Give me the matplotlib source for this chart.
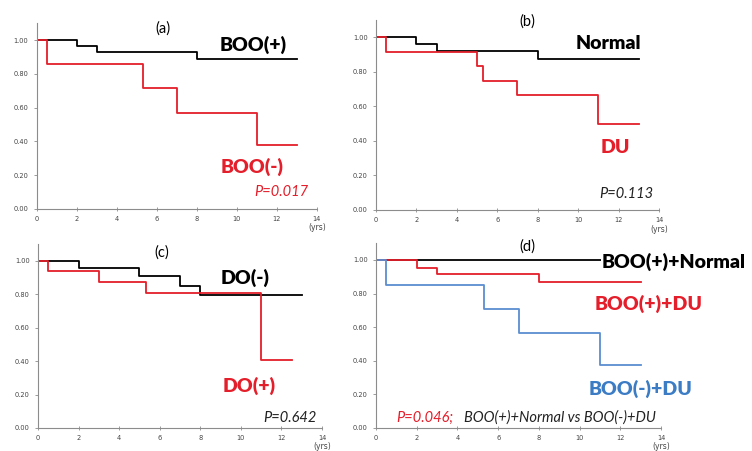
import numpy as np
import matplotlib
matplotlib.use('Agg')
import matplotlib.pyplot as plt

plt.rcParams['font.family'] = ['Lato', 'DejaVu Sans']

RED = '#e41f2b'
BLUE = '#5b8ed0'
BLUE_TXT = '#3b7cc4'
GRAY = '#8c8c8c'

# (a) BOO(+) vs BOO(-)
a_boo_pos_t = [0, 2, 3, 8, 13]
a_boo_pos_s = [1.0, 0.964, 0.929, 0.89, 0.89]
a_boo_neg_t = [0, 0.5, 5.3, 7, 11, 13]
a_boo_neg_s = [1.0, 0.857, 0.714, 0.571, 0.381, 0.381]

# (b) Normal vs DU
b_norm_t = [0, 2, 3, 8, 13]
b_norm_s = [1.0, 0.96, 0.923, 0.872, 0.872]
b_du_t = [0, 0.5, 5.0, 5.3, 7, 11, 13]
b_du_s = [1.0, 0.917, 0.833, 0.75, 0.665, 0.5, 0.5]

# (c) DO(-) vs DO(+)
c_dono_t = [0, 2, 5, 7, 8, 13]
c_dono_s = [1.0, 0.956, 0.906, 0.85, 0.796, 0.796]
c_do_t = [0, 0.5, 3, 5.3, 11, 12.5]
c_do_s = [1.0, 0.936, 0.872, 0.81, 0.404, 0.404]

# (d) combined groups
d_norm_t = [0, 13]
d_norm_s = [1.0, 1.0]
d_du_t = [0, 2, 3, 8, 13]
d_du_s = [1.0, 0.954, 0.915, 0.866, 0.866]
d_neg_t = [0, 0.5, 5.3, 7, 11, 13]
d_neg_s = [1.0, 0.85, 0.705, 0.564, 0.372, 0.372]

yticks = [0.0, 0.2, 0.4, 0.6, 0.8, 1.0]
xticks = [0, 2, 4, 6, 8, 10, 12, 14]

fig = plt.figure(figsize=(7.52, 4.51), dpi=100)


def setup(rect):
    ax = fig.add_axes(rect)
    ax.set_xlim(0, 14)
    ax.set_ylim(0, 1.1)
    for s in ['top', 'right']:
        ax.spines[s].set_visible(False)
    for s in ['left', 'bottom']:
        ax.spines[s].set_color(GRAY)
        ax.spines[s].set_linewidth(0.8)
    ax.set_xticks(xticks)
    ax.set_yticks(yticks)
    ax.set_xticklabels([str(v) for v in xticks], family='DejaVu Sans')
    ax.set_yticklabels(['%.2f' % v for v in yticks], family='DejaVu Sans')
    ax.tick_params(colors=GRAY, labelcolor='#444444', labelsize=4.8, length=2.5, width=0.6)
    ax.tick_params(axis='x', direction='inout', length=3)
    ax.text(14, -0.085, '(yrs)', fontsize=5.5, color='#444444', ha='center', va='top',
            family='DejaVu Sans')
    return ax


ax_a = setup([0.049, 0.5366, 0.3724, 0.412])
ax_b = setup([0.5, 0.5344, 0.3763, 0.421])
ax_c = setup([0.0505, 0.051, 0.3777, 0.408])
ax_d = setup([0.5, 0.051, 0.379, 0.41])

lw = 1.3
big = 14
ptxt = 10.5
ttl = 10.5

# (a)
ax_a.step(a_boo_pos_t, a_boo_pos_s, where='post', color='black', lw=lw)
ax_a.step(a_boo_neg_t, a_boo_neg_s, where='post', color=RED, lw=lw)
ax_a.text(6.3, 1.07, '(a)', fontsize=ttl, ha='center', va='center')
ax_a.text(10.8, 0.97, 'BOO(+)', fontsize=big, fontweight='heavy', ha='center', va='center')
ax_a.text(10.75, 0.25, 'BOO(-)', fontsize=big, fontweight='heavy', color=RED, ha='center', va='center')
ax_a.text(12.2, 0.10, 'P=0.017', fontsize=ptxt, style='italic', color=RED, ha='center', va='center')

# (b)
ax_b.step(b_norm_t, b_norm_s, where='post', color='black', lw=lw)
ax_b.step(b_du_t, b_du_s, where='post', color=RED, lw=lw)
ax_b.text(7.5, 1.09, '(b)', fontsize=ttl, ha='center', va='center')
ax_b.text(11.5, 0.965, 'Normal', fontsize=big, fontweight='heavy', ha='center', va='center')
ax_b.text(11.85, 0.36, 'DU', fontsize=big, fontweight='heavy', color=RED, ha='center', va='center')
ax_b.text(12.4, 0.09, 'P=0.113', fontsize=ptxt, style='italic', color='#222222', ha='center', va='center')

# (c)
ax_c.step(c_dono_t, c_dono_s, where='post', color='black', lw=lw)
ax_c.step(c_do_t, c_do_s, where='post', color=RED, lw=lw)
ax_c.text(6.1, 1.05, '(c)', fontsize=ttl, ha='center', va='center')
ax_c.text(10.2, 0.90, 'DO(-)', fontsize=big, fontweight='heavy', ha='center', va='center')
ax_c.text(10.4, 0.25, 'DO(+)', fontsize=big, fontweight='heavy', color=RED, ha='center', va='center')
ax_c.text(12.4, 0.06, 'P=0.642', fontsize=ptxt, style='italic', color='#222222', ha='center', va='center')

# (d)
ax_d.step(d_norm_t, d_norm_s, where='post', color='black', lw=lw)
ax_d.step(d_du_t, d_du_s, where='post', color=RED, lw=lw)
ax_d.step(d_neg_t, d_neg_s, where='post', color=BLUE, lw=lw)
ax_d.text(7.45, 1.08, '(d)', fontsize=ttl, ha='center', va='center')
ax_d.text(11.1, 0.99, 'BOO(+)+Normal', fontsize=big, fontweight='heavy', ha='left', va='center',
          clip_on=False, bbox=dict(facecolor='white', edgecolor='none', pad=0.5), zorder=5)
ax_d.text(13.4, 0.74, 'BOO(+)+DU', fontsize=big, fontweight='heavy', color=RED, ha='center', va='center')
ax_d.text(13.0, 0.23, 'BOO(-)+DU', fontsize=big, fontweight='heavy', color=BLUE_TXT, ha='center', va='center')
ax_d.text(1.0, 0.06, 'P=0.046;', fontsize=ptxt, style='italic', color=RED, ha='left', va='center')
ax_d.text(4.3, 0.06, 'BOO(+)+Normal vs BOO(-)+DU', fontsize=ptxt, style='italic', color='#222222',
          ha='left', va='center')

fig.savefig('out.png', dpi=100)
